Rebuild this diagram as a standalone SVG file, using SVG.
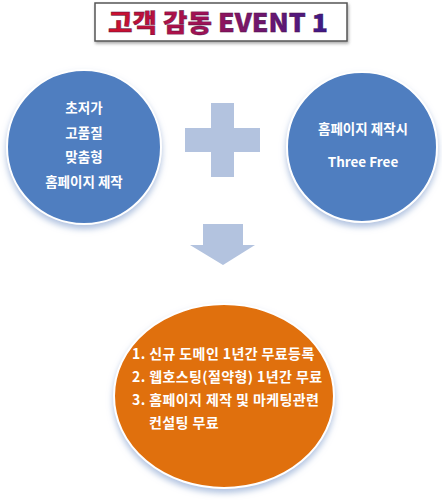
<svg xmlns="http://www.w3.org/2000/svg" width="442" height="500" viewBox="0 0 442 500">
<defs>
<linearGradient id="tg" x1="0" y1="0" x2="1" y2="0">
<stop offset="0" stop-color="#d0102a"/>
<stop offset="0.45" stop-color="#9a1258"/>
<stop offset="1" stop-color="#3a1a8a"/>
</linearGradient>
<filter id="sh" x="-20%" y="-20%" width="140%" height="150%">
<feGaussianBlur in="SourceAlpha" stdDeviation="3"/>
<feOffset dx="0" dy="4" result="b"/>
<feFlood flood-color="#9db3d8" flood-opacity="0.8"/>
<feComposite in2="b" operator="in"/>
<feMerge><feMergeNode/><feMergeNode in="SourceGraphic"/></feMerge>
</filter>
<filter id="bs" x="-10%" y="-20%" width="120%" height="150%">
<feGaussianBlur in="SourceAlpha" stdDeviation="1.5"/>
<feOffset dx="1" dy="2" result="b"/>
<feFlood flood-color="#888" flood-opacity="0.7"/>
<feComposite in2="b" operator="in"/>
<feMerge><feMergeNode/><feMergeNode in="SourceGraphic"/></feMerge>
</filter>
</defs>
<style>
.t{font-family:"Noto Sans CJK KR","Liberation Sans",sans-serif;font-weight:bold;fill:#fff;font-size:13.5px}
.c{text-anchor:middle}
.o{font-size:14px;letter-spacing:0.4px}
</style>
<rect width="442" height="500" fill="#fff"/>
<g id="title">
<rect x="95" y="3" width="252" height="38" fill="#fff" stroke="#555" stroke-width="1.5" filter="url(#bs)"/>
<text x="108" y="32" textLength="220" lengthAdjust="spacingAndGlyphs" font-family="'Noto Sans CJK KR','Liberation Sans',sans-serif" font-weight="900" font-size="25" fill="url(#tg)" stroke="#4a1040" stroke-width="0.4">고객 감동 EVENT 1</text>
</g>
<g id="left">
<circle cx="84" cy="147" r="77" fill="#4f7ec0" stroke="#fff" stroke-width="2" filter="url(#sh)"/>
<text class="t c" x="84" y="113">초저가</text>
<text class="t c" x="84" y="138">고품질</text>
<text class="t c" x="84" y="162">맞춤형</text>
<text class="t c" x="84" y="187">홈페이지 제작</text>
</g>
<g id="plus">
<path d="M211 103H234V128H260V152H234V177H211V152H185V128H211Z" fill="#b3c3df"/>
</g>
<g id="right">
<circle cx="362" cy="147" r="75" fill="#4f7ec0" stroke="#fff" stroke-width="2" filter="url(#sh)"/>
<text class="t c" x="363" y="134">홈페이지 제작시</text>
<text class="t c" x="363" y="167">Three Free</text>
</g>
<g id="connectors">
<path d="M203 224H243V245H255L223 265L190 245H203Z" fill="#b3c3df"/>
</g>
<g id="bottom">
<ellipse cx="224" cy="396" rx="110" ry="92" fill="#e0700f" stroke="#fff" stroke-width="2" filter="url(#sh)"/>
<text class="t o" x="132" y="359">1. 신규 도메인 1년간 무료등록</text>
<text class="t o" x="132" y="382">2. 웹호스팅(절약형) 1년간 무료</text>
<text class="t o" x="132" y="405">3. 홈페이지 제작 및 마케팅관련</text>
<text class="t o" x="149" y="428">컨설팅 무료</text>
</g>
</svg>
